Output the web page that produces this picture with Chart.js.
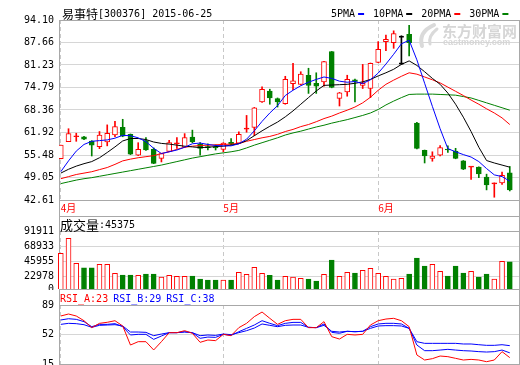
<!DOCTYPE html>
<html>
<head>
<meta charset="utf-8">
<title>易事特[300376]</title>
<script src="https://cdn.jsdelivr.net/npm/chart.js@4.4.1/dist/chart.umd.min.js"></script>
<style>
  body { margin: 0; background: #fff; }
  #board { position: relative; width: 520px; height: 365px; overflow: hidden; }
  #board canvas { position: absolute; left: 0; }
</style>
</head>
<body>
<div id="board">
  <canvas id="priceChart" width="520" height="216" style="top:0px"></canvas>
  <canvas id="volumeChart" width="520" height="74" style="top:216px"></canvas>
  <canvas id="rsiChart" width="520" height="75" style="top:290px"></canvas>
</div>
<script>
const stockTitle = "易事特[300376] 2015-06-25";

// trading days on the chart (2015, MM-DD)
const days = [
  "04-01","04-02","04-03","04-07","04-08","04-09","04-10","04-13","04-14","04-15",
  "04-16","04-17","04-20","04-21","04-22","04-23","04-24","04-27","04-28","04-29",
  "04-30","05-04","05-05","05-06","05-07","05-08","05-11","05-12","05-13","05-14",
  "05-15","05-18","05-19","05-20","05-21","05-22","05-25","05-26","05-27","05-28",
  "05-29","06-01","06-02","06-03","06-04","06-05","06-08","06-09","06-10","06-11",
  "06-12","06-15","06-16","06-17","06-18","06-19","06-23","06-24","06-25"
];

const opens = [
  54.4,59.3,60.7,60.7,59.5,57.9,59.2,61.2,63.4,61.4, 55.4,59.6,57.1,54.5,56.5,58.7,57.7,60.6,58.5,57.8,
  57.7,57.1,59.1,58.9,62.9,63.4,70.7,73.8,71.6,70.2, 75.9,75.7,78.3,76.0,76.4,85.1,71.7,73.5,77.0,75.4,
  74.5,82.0,87.9,87.6,81.5,90.0,64.6,56.8,54.5,55.4, 57.2,56.6,53.8,52.0,52.0,49.2,47.2,47.5,50.4
];
const highs = [
  58.3,63.0,61.7,60.8,59.6,62.2,64.1,65.1,65.7,61.5, 59.0,60.5,57.5,56.0,59.7,60.5,61.6,62.6,59.0,58.7,
  58.4,59.0,60.2,62.1,66.8,69.1,75.0,74.3,71.8,78.0, 81.7,79.3,80.3,79.0,82.3,85.1,73.4,78.3,77.2,81.4,
  81.8,87.9,89.8,91.0,89.6,92.6,64.8,56.9,56.4,58.2, 58.1,57.4,53.9,52.1,52.1,50.0,47.5,50.6,52.2
];
const lows = [
  54.4,59.3,59.4,59.9,55.2,57.3,58.1,60.7,60.7,55.6, 55.3,56.8,53.0,53.5,56.4,57.4,57.6,59.0,55.4,56.9,
  56.9,56.4,58.4,58.8,62.0,61.0,70.5,70.0,69.2,70.0, 74.2,75.5,73.1,73.1,75.2,74.7,69.5,72.3,70.7,74.5,
  71.9,81.9,85.3,86.0,81.4,83.8,57.2,53.2,53.7,55.2, 56.2,54.4,51.3,48.5,49.0,45.5,43.4,47.1,45.2
];
const closes = [
  58.3,61.6,60.8,60.0,58.3,61.2,61.7,63.6,60.9,55.7, 57.1,56.9,53.1,55.9,59.0,58.9,60.5,59.2,57.4,57.6,
  57.5,58.9,58.6,61.4,63.1,69.0,74.3,71.8,70.7,77.1, 76.7,78.6,75.4,75.2,82.2,74.8,73.3,77.1,76.5,76.0,
  81.7,85.7,88.6,90.2,89.5,87.6,57.4,55.2,55.2,57.6, 56.9,54.5,51.4,52.1,50.1,46.9,47.3,49.7,45.5
];
// days drawn as black candles
const blackCandles = [44];

const ma5 = [
  50.7,53.8,56.6,58.5,59.4,59.6,59.8,60.3,61.1,61.0, 60.4,59.3,57.4,55.9,56.4,56.9,57.7,58.7,58.9,58.5,
  58.2,58.1,58.1,58.7,60.0,62.4,65.1,67.5,69.6,72.5, 74.0,75.3,76.3,77.1,77.8,77.4,76.6,76.3,76.5,75.9,
  77.0,78.9,81.5,84.3,87.3,88.3,82.7,76.0,69.4,63.0, 57.3,56.4,55.6,54.9,53.6,51.6,49.8,49.3,48.0
];
const ma10 = [
  50.3,51.4,52.3,53.0,53.6,54.7,56.2,57.8,59.5,60.2, 60.2,59.9,59.2,58.8,58.6,58.3,58.0,57.8,57.6,57.7,
  57.9,58.0,58.3,58.7,59.6,61.0,62.4,63.7,64.9,66.4, 68.1,70.0,71.9,73.8,75.4,75.5,75.6,75.7,76.0,76.4,
  77.1,78.1,79.0,80.0,81.4,82.4,81.1,79.3,77.4,75.7, 73.2,70.0,66.3,62.2,57.7,53.9,53.2,52.6,52.0
];
const ma20 = [
  48.7,49.3,49.9,50.3,50.7,51.3,51.9,52.8,53.8,54.3, 54.7,55.0,55.3,55.9,56.4,57.1,57.7,58.0,58.2,58.3,
  58.4,58.5,58.6,58.8,59.4,59.9,60.4,60.8,61.4,62.2, 62.8,63.6,64.2,65.0,65.9,66.6,67.5,68.3,69.2,70.4,
  72.0,74.0,75.7,76.9,78.0,79.0,78.6,77.8,77.0,76.1, 74.9,73.7,72.5,71.2,70.0,68.7,67.5,66.1,64.2
];
const ma30 = [
  47.3,47.8,48.3,48.7,49.0,49.4,49.8,50.2,50.6,51.0, 51.4,51.8,52.2,52.6,53.1,53.6,54.1,54.6,55.0,55.4,
  55.8,56.1,56.4,56.8,57.5,58.3,59.0,59.7,60.4,61.2, 61.8,62.3,62.9,63.5,64.0,64.6,65.1,65.6,66.2,66.8,
  67.5,68.5,69.8,70.9,71.9,72.8,72.9,72.9,72.9,72.8, 72.7,72.6,72.2,71.8,71.1,70.4,69.7,69.0,68.3
];

const volumes = [
  58224,80850,43140,36503,36503,41632,41632,28056,25492,25492, 25039,27000,27000,22475,25039,23531,23531,23984,19458,17950,
  17950,17950,17950,29565,26548,37107,28056,25039,17950,23531, 22475,20514,19458,16442,26548,48118,23531,29565,28509,32581,
  35598,28056,23531,19458,20514,27000,51135,39068,41632,31073, 23984,39068,28509,31073,22475,27000,19458,46157,45375
];

const rsiA = [
  75.2,77.7,75.2,69.3,60.6,66.0,67.3,69.3,62.7,38.8, 43.0,43.0,32.6,43.0,54.3,54.3,56.8,53.5,42.2,45.1,
  44.3,52.2,50.5,60.6,66.0,74.4,80.2,72.3,64.7,69.3, 71.0,71.0,60.6,60.6,68.1,49.3,46.3,52.2,51.4,52.2,
  63.9,69.3,71.4,72.3,69.3,61.8,26.3,20.0,21.7,25.0, 24.2,22.1,20.0,20.8,20.0,17.9,20.0,30.5,23.0
];
const rsiB = [
  70.2,71.8,71.0,68.1,61.8,64.7,64.7,65.6,61.8,51.4, 52.2,52.2,45.9,50.1,54.3,54.3,55.5,54.3,47.2,48.8,
  48.4,52.2,50.9,55.5,59.7,63.9,69.3,66.0,63.1,66.0, 67.2,67.2,61.0,60.6,65.2,54.7,53.5,56.0,55.5,56.0,
  61.8,65.2,66.0,66.0,65.2,59.7,38.8,31.7,31.7,32.5, 33.4,32.5,31.7,31.3,30.5,30.0,30.5,32.5,29.0
];
const rsiC = [
  64.7,66.0,65.6,64.3,61.0,63.5,63.9,64.3,62.7,55.1, 55.1,54.7,50.5,52.6,54.3,54.3,55.1,54.3,50.5,51.4,
  50.9,52.6,51.8,54.3,56.8,60.1,65.2,63.5,61.8,63.5, 63.9,63.9,61.0,60.6,63.5,56.0,55.1,56.0,55.5,56.0,
  59.7,62.7,63.1,63.1,62.7,59.7,43.0,40.9,40.9,40.9, 40.9,40.9,40.1,40.1,39.2,38.4,38.4,39.2,38.0
];

// axis tick labels
const priceTicks = [94.10, 87.66, 81.23, 74.79, 68.36, 61.92, 55.48, 49.05, 42.61];
const volumeTicks = [91911, 68933, 45955, 22978, 0];
const rsiTicks = [89, 52, 15];

const upColor = "#ff0000";
const downColor = "#008000";
const flatColor = "#000000";
const blueColor = "#0000ff";
const gridColor = "#d6d6d6";
const frameColor = "#a8a8a8";
const dashColor = "#c8c8c8";
const monoFont = "'DejaVu Sans Mono', monospace";
const cjkFont = "'Noto Sans CJK SC', sans-serif";

// first trading day of every month gets a dashed line and a label
const monthStarts = days
  .map((d, i) => (i === 0 || d.slice(0, 2) !== days[i - 1].slice(0, 2) ? i : -1))
  .filter((i) => i >= 0);

function isUp(i) {
  return closes[i] >= opens[i];
}

function candleColor(i) {
  if (blackCandles.includes(i)) return flatColor;
  return isUp(i) ? upColor : downColor;
}

// writes a string that mixes chinese and latin glyphs, returns the end x
function drawMixed(ctx, text, x, y, color, cjkSize, latinSize) {
  ctx.save();
  ctx.fillStyle = color;
  ctx.textBaseline = "middle";
  ctx.textAlign = "left";
  for (const ch of text) {
    const latin = ch.charCodeAt(0) < 128;
    ctx.font = latin ? `${latinSize}px ${monoFont}` : `${cjkSize}px ${cjkFont}`;
    ctx.fillText(ch, x, y);
    x += ctx.measureText(ch).width;
  }
  ctx.restore();
  return x;
}

// grey box round a panel: side lines plus some horizontal rules
function framePlugin(top, bottom, rows) {
  return {
    id: "frame",
    beforeDatasetsDraw(chart) {
      const ctx = chart.ctx;
      const { left, right } = chart.chartArea;
      ctx.save();
      ctx.strokeStyle = frameColor;
      ctx.lineWidth = 1;
      ctx.beginPath();
      [left, right].forEach((x) => {
        ctx.moveTo(Math.round(x) + 0.5, top);
        ctx.lineTo(Math.round(x) + 0.5, bottom);
      });
      rows.forEach((y) => {
        ctx.moveTo(left, y + 0.5);
        ctx.lineTo(right + 1, y + 0.5);
      });
      ctx.stroke();
      ctx.restore();
    },
  };
}

function xAxis(showLabels) {
  return {
    type: "linear",
    min: -0.23,
    max: 59.19,
    offset: false,
    afterBuildTicks: (scale) => {
      scale.ticks = monthStarts.map((v) => ({ value: v }));
    },
    afterFit: (scale) => {
      scale.height = showLabels ? 16 : 1;
      scale.paddingLeft = 0;
      scale.paddingRight = 0;
    },
    grid: { color: dashColor, drawTicks: false, offset: false },
    border: { display: true, color: frameColor, dash: [4, 3] },
    ticks: {
      display: showLabels,
      autoSkip: false,
      maxRotation: 0,
      align: "start",
      padding: 2,
      color: upColor,
      font: { family: cjkFont, size: 10 },
      callback: (value) => Number(days[value].slice(0, 2)) + "月",
    },
  };
}

function yAxis(min, max, ticks, format) {
  return {
    type: "linear",
    min: min,
    max: max,
    afterBuildTicks: (scale) => {
      scale.ticks = ticks.map((v) => ({ value: Math.min(Math.max(v, min), max) }));
    },
    afterFit: (scale) => {
      scale.width = 59;
      scale.paddingTop = 0;
      scale.paddingBottom = 0;
    },
    grid: { color: gridColor, drawTicks: false },
    border: { display: true, color: frameColor },
    ticks: {
      autoSkip: false,
      padding: 5,
      color: "#000",
      font: { family: monoFont, size: 10 },
      callback: (value, index) => format(ticks[index]),
    },
  };
}

const baseOptions = {
  responsive: false,
  animation: false,
  events: [],
  plugins: { legend: { display: false }, tooltip: { enabled: false } },
};

// ---------- price panel ----------
const maSeries = [
  { label: "5PMA", values: ma5, color: blueColor },
  { label: "10PMA", values: ma10, color: "#000000" },
  { label: "20PMA", values: ma20, color: upColor },
  { label: "30PMA", values: ma30, color: downColor },
];

const priceHeader = {
  id: "priceHeader",
  beforeDatasetsDraw(chart) {
    // faint site watermark (swoosh + name)
    const ctx = chart.ctx;
    ctx.save();
    ctx.strokeStyle = "#dadada";
    ctx.lineWidth = 4;
    ctx.lineCap = "round";
    ctx.beginPath();
    ctx.moveTo(434, 25);
    ctx.quadraticCurveTo(418, 32, 422, 46);
    ctx.stroke();
    ctx.lineWidth = 3;
    ctx.beginPath();
    ctx.moveTo(437, 29);
    ctx.quadraticCurveTo(428, 36, 430, 44);
    ctx.stroke();
    ctx.fillStyle = "#d6d6d6";
    ctx.textBaseline = "middle";
    ctx.font = `bold 15px ${cjkFont}`;
    ctx.fillText("东方财富网", 442, 31);
    ctx.font = "bold 9px 'Liberation Sans', sans-serif";
    ctx.fillText("eastmoney.com", 443, 43);
    ctx.restore();
  },
  afterDraw(chart) {
    const ctx = chart.ctx;
    drawMixed(ctx, stockTitle, 62, 14, "#000", 12, 10);
    let x = 331;
    chart.data.datasets
      .filter((ds) => ds.type === "line")
      .forEach((ds) => {
        x = drawMixed(ctx, ds.label, x, 14, "#000", 12, 10);
        ctx.fillStyle = ds.borderColor;
        ctx.fillRect(x + 3, 13, 6, 2);
        x += 18;
      });
  },
};

new Chart(document.getElementById("priceChart").getContext("2d"), {
  type: "bar",
  data: {
    datasets: [
      ...maSeries.map((s) => ({
        type: "line",
        label: s.label,
        data: s.values.map((v, i) => ({ x: i, y: v })),
        borderColor: s.color,
        borderWidth: 1,
        pointRadius: 0,
        tension: 0,
        order: 0,
      })),
      {
        type: "bar",
        label: "body",
        data: days.map((d, i) => ({ x: i, y: [opens[i], closes[i]] })),
        grouped: false,
        barThickness: 5,
        minBarLength: 1,
        borderSkipped: false,
        borderColor: (c) => candleColor(c.dataIndex),
        borderWidth: (c) =>
          blackCandles.includes(c.dataIndex) ? { top: 1, bottom: 1, left: 0, right: 0 } : 1,
        backgroundColor: (c) => {
          const i = c.dataIndex;
          if (blackCandles.includes(i)) return "rgba(0,0,0,0)";
          if (!isUp(i)) return downColor;
          return Math.abs(closes[i] - opens[i]) < 0.35 ? upColor : "#ffffff";
        },
        order: 1,
      },
      {
        type: "bar",
        label: "wick",
        data: days.map((d, i) => ({ x: i, y: [lows[i], highs[i]] })),
        grouped: false,
        barThickness: 1,
        borderWidth: 0,
        backgroundColor: (c) => candleColor(c.dataIndex),
        order: 2,
      },
    ],
  },
  options: {
    ...baseOptions,
    layout: { padding: { top: 20, right: 1, left: 0, bottom: 0 }, autoPadding: false },
    scales: {
      x: xAxis(true),
      y: yAxis(42.61, 94.10, priceTicks, (v) => v.toFixed(2)),
    },
  },
  plugins: [framePlugin(20, 216, [20, 200]), priceHeader],
});

// ---------- volume panel ----------
const volumeHeader = {
  id: "volumeHeader",
  afterDraw(chart) {
    drawMixed(chart.ctx, "成交量:" + volumes[volumes.length - 1], 60, 9, "#000", 13, 10);
  },
};

new Chart(document.getElementById("volumeChart").getContext("2d"), {
  type: "bar",
  data: {
    datasets: [
      {
        label: "volume",
        data: volumes.map((v, i) => ({ x: i, y: v })),
        grouped: false,
        barThickness: 5,
        borderSkipped: false,
        borderWidth: 1,
        borderColor: (c) => (isUp(c.dataIndex) ? upColor : downColor),
        backgroundColor: (c) => (isUp(c.dataIndex) ? "#ffffff" : downColor),
        clip: { left: 10, right: 10, top: 0, bottom: 0 },
      },
    ],
  },
  options: {
    ...baseOptions,
    layout: { padding: { top: 15, right: 1, left: 0, bottom: 0 }, autoPadding: false },
    scales: {
      x: xAxis(false),
      y: yAxis(4520, 91911, volumeTicks, (v) => String(v)),
    },
  },
  plugins: [framePlugin(0, 74, [0, 15, 73]), volumeHeader],
});

// ---------- RSI panel ----------
const rsiSeries = [
  { label: "RSI_A", values: rsiA, color: upColor },
  { label: "RSI_B", values: rsiB, color: blueColor },
  { label: "RSI_C", values: rsiC, color: blueColor },
];

const rsiHeader = {
  id: "rsiHeader",
  afterDraw(chart) {
    let x = 60;
    rsiSeries.forEach((s) => {
      const text = s.label + ":" + Math.round(s.values[s.values.length - 1]);
      x = drawMixed(chart.ctx, text, x, 9, s.color, 12, 10) + 5;
    });
  },
};

new Chart(document.getElementById("rsiChart").getContext("2d"), {
  type: "line",
  data: {
    datasets: rsiSeries.map((s) => ({
      label: s.label,
      data: s.values.map((v, i) => ({ x: i, y: v })),
      borderColor: s.color,
      borderWidth: 1,
      pointRadius: 0,
      tension: 0,
    })),
  },
  options: {
    ...baseOptions,
    layout: { padding: { top: 15, right: 1, left: 0, bottom: 0 }, autoPadding: false },
    scales: {
      x: xAxis(false),
      y: yAxis(15, 89, rsiTicks, (v) => String(v)),
    },
  },
  plugins: [framePlugin(0, 75, [15, 74]), rsiHeader],
});
</script>
</body>
</html>
